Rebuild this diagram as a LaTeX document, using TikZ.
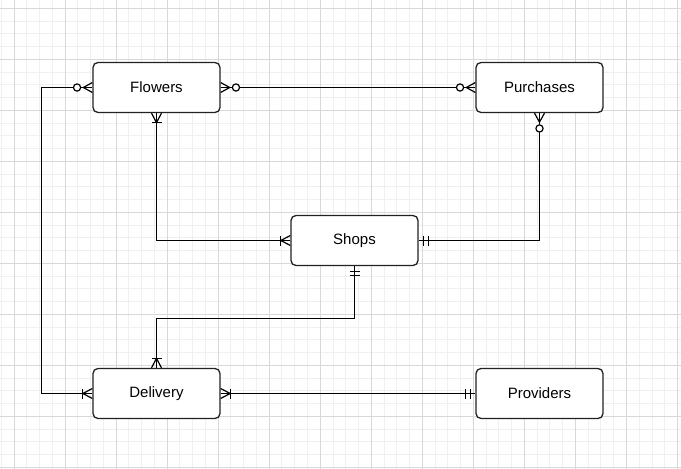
\documentclass[tikz,border=0pt]{standalone}
\usepackage{fontspec}
\setmainfont{Liberation Sans}
\definecolor{gridminor}{HTML}{F0F0F0}
\definecolor{gridmajor}{HTML}{D8D8D8}
\definecolor{boxline}{HTML}{222222}
\tikzset{
  entity/.style={draw=boxline, line width=1.3pt, fill=white, rounded corners=5pt,
    minimum width=127pt, minimum height=50pt, inner sep=0pt,
    font=\fontsize{15}{18}\selectfont, text=black},
  conn/.style={draw=black, line width=1.2pt},
  pics/zeromany/.style={code={
    \draw[conn] (0,-5) -- (9,0) -- (0,5);
    \draw[conn] (0,0) -- (9,0);
    \draw[conn, fill=white] (15.3,0) circle (3.6);}},
  pics/onemany/.style={code={
    \draw[conn] (0,-5) -- (9.5,0) -- (0,5);
    \draw[conn] (0,0) -- (9.5,0);
    \draw[conn] (9.5,-5) -- (9.5,5);}},
  pics/mandone/.style={code={
    \draw[conn] (5,-5) -- (5,5);
    \draw[conn] (9.7,-5) -- (9.7,5);}},
}
\begin{document}
\begin{tikzpicture}[x=1pt,y=-1pt]
\useasboundingbox (0,0) rectangle (681,469);
\fill[white] (0,0) rectangle (681,469);
\begin{scope}
\clip (0,0) rectangle (681,469);
% minor grid
\foreach \k in {0,...,53} {
  \draw[gridminor, line width=1pt] ({1.24+12.76*\k},0) -- ({1.24+12.76*\k},469);
}
\foreach \k in {0,...,36} {
  \draw[gridminor, line width=1pt] (0,{8.3+12.75*\k}) -- (681,{8.3+12.75*\k});
}
% major grid
\foreach \k in {0,...,13} {
  \draw[gridmajor, line width=1pt] ({14+51.03*\k},0) -- ({14+51.03*\k},469);
}
\foreach \k in {0,...,9} {
  \draw[gridmajor, line width=1pt] (0,{8.3+51*\k}) -- (681,{8.3+51*\k});
}
\end{scope}

% entities
\node[entity] (fl) at (156.5,87.5) {Flowers};
\node[entity] (pu) at (539.5,87.5) {Purchases};
\node[entity] (sh) at (354.5,240.5) {Shops};
\node[entity] (de) at (156.5,393.5) {Delivery};
\node[entity] (pr) at (539.5,393.5) {Providers};

% connectors
\draw[conn] (fl.west) -- ++(-50.5,0) |- (de.west);
\draw[conn] (fl.east) -- (pu.west);
\draw[conn] (fl.south) |- (sh.west);
\draw[conn] (pu.south) |- (sh.east);
\draw[conn] (sh.south) -- ++(0,52) -| (de.north);
\draw[conn] (de.east) -- (pr.west);

% markers
\pic[rotate=180] at (fl.west) {zeromany};
\pic[rotate=180] at (de.west) {onemany};
\pic at (fl.east) {zeromany};
\pic[rotate=180] at (pu.west) {zeromany};
\pic[rotate=-90] at (fl.south) {onemany};
\pic[rotate=180] at (sh.west) {onemany};
\pic[rotate=-90] at (pu.south) {zeromany};
\pic at (sh.east) {mandone};
\pic[rotate=-90] at (sh.south) {mandone};
\pic[rotate=90] at (de.north) {onemany};
\pic at (de.east) {onemany};
\pic[rotate=180] at (pr.west) {mandone};
\end{tikzpicture}
\end{document}
